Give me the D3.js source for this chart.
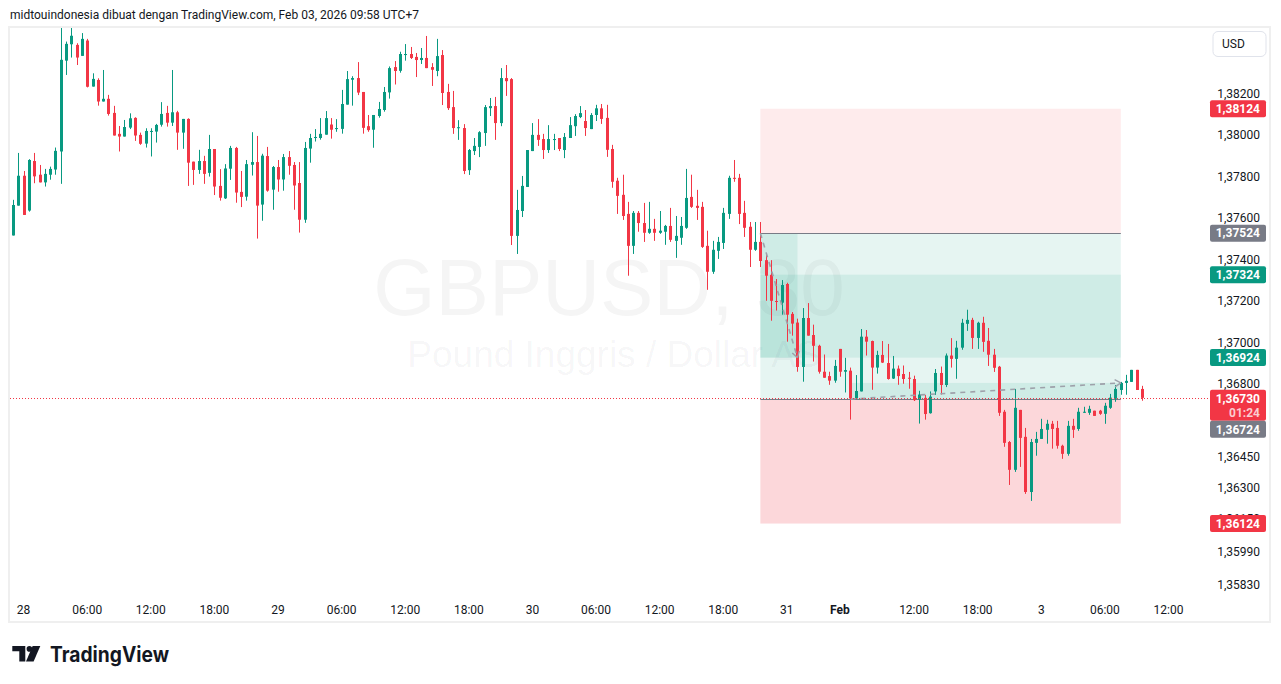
<!DOCTYPE html>
<html>
<head>
<meta charset="utf-8">
<script src="https://d3js.org/d3.v7.min.js"></script>
<style>
  body { margin: 0; background: #ffffff; }
  svg { display: block; font-family: Roboto, "Liberation Sans", sans-serif; }
</style>
</head>
<body>
<div id="chart"></div>
<script>
// GBPUSD 30m candles (oldest first)
var openP = [
  1.37513,1.37657,1.37801,1.37633,1.37872,1.37806,1.37769,1.37806,1.37831,1.37918,
  1.38356,1.38435,1.38432,1.38379,1.38453,1.38231,1.38263,1.38159,1.38172,1.38104,
  1.38003,1.37990,1.38033,1.38080,1.37998,1.37956,1.38014,1.38014,1.38047,1.38104,
  1.38057,1.38107,1.38009,1.38075,1.37869,1.37829,1.37872,1.37815,1.37930,1.37752,
  1.37692,1.37835,1.37935,1.37723,1.37700,1.37854,1.37867,1.37662,1.37896,1.37734,
  1.37843,1.37783,1.37891,1.37853,1.37766,1.37589,1.37932,1.37983,1.37983,1.37999,
  1.38048,1.38026,1.38027,1.38144,1.38264,1.38272,1.38205,1.38040,1.38023,1.38089,
  1.38118,1.38203,1.38325,1.38307,1.38383,1.38388,1.38374,1.38359,1.38369,1.38325,
  1.38306,1.38383,1.38205,1.38132,1.38031,1.38031,1.37828,1.37920,1.37940,1.38007,
  1.38127,1.38137,1.38055,1.38272,1.38267,1.37511,1.37631,1.37747,1.37920,1.37998,
  1.37978,1.37925,1.37974,1.37983,1.37925,1.37983,1.38040,1.38084,1.38065,1.38026,
  1.38094,1.38126,1.38080,1.37930,1.37777,1.37709,1.37617,1.37463,1.37622,1.37573,
  1.37526,1.37545,1.37526,1.37531,1.37559,1.37487,1.37502,1.37550,1.37699,1.37656,
  1.37651,1.37463,1.37338,1.37439,1.37477,1.37617,1.37791,1.37791,1.37622,1.37555,
  1.37444,1.37482,1.37394,1.37323,1.37197,1.37189,1.37279,1.37135,1.37093,1.36879,
  1.37115,1.37033,1.36981,1.36856,1.36835,1.36813,1.36966,1.36856,1.36861,1.36727,
  1.36761,1.37025,1.37004,1.36876,1.36937,1.36898,1.36823,1.36871,1.36845,1.36827,
  1.36821,1.36722,1.36730,1.36656,1.36761,1.36850,1.36792,1.36934,1.36918,1.36972,
  1.37087,1.37106,1.37019,1.37092,1.37005,1.36938,1.36880,1.36663,1.36517,1.36383,
  1.36672,1.36542,1.36276,1.36513,1.36532,1.36576,1.36605,1.36585,1.36499,1.36460,
  1.36595,1.36580,1.36658,1.36658,1.36668,1.36668,1.36653,1.36682,1.36726,1.36768,
  1.36802,1.36807,1.36865,1.36773
];
var highP = [
  1.37685,1.37911,1.37824,1.37881,1.37911,1.37853,1.37834,1.37845,1.37937,1.38521,
  1.38448,1.38521,1.38440,1.38489,1.38461,1.38295,1.38271,1.38311,1.38191,1.38138,
  1.38041,1.38070,1.38102,1.38083,1.38009,1.38030,1.38030,1.38051,1.38156,1.38138,
  1.38311,1.38114,1.38075,1.38078,1.37869,1.37926,1.37897,1.37998,1.37930,1.37833,
  1.37857,1.37945,1.37940,1.37824,1.37877,1.38011,1.37993,1.37907,1.37940,1.37848,
  1.37877,1.37906,1.37920,1.37867,1.37867,1.37964,1.38003,1.38026,1.38079,1.38113,
  1.38079,1.38074,1.38215,1.38306,1.38281,1.38349,1.38205,1.38094,1.38094,1.38157,
  1.38229,1.38328,1.38354,1.38399,1.38436,1.38422,1.38393,1.38417,1.38475,1.38344,
  1.38461,1.38407,1.38244,1.38210,1.38069,1.38050,1.37930,1.37983,1.38016,1.38142,
  1.38176,1.38181,1.38320,1.38335,1.38272,1.37733,1.37800,1.37925,1.38055,1.38074,
  1.38003,1.38045,1.38003,1.37983,1.38007,1.38084,1.38098,1.38137,1.38118,1.38103,
  1.38143,1.38147,1.38143,1.37950,1.37791,1.37806,1.37675,1.37631,1.37631,1.37670,
  1.37675,1.37593,1.37631,1.37564,1.37646,1.37607,1.37602,1.37834,1.37806,1.37733,
  1.37675,1.37536,1.37487,1.37506,1.37646,1.37801,1.37877,1.37810,1.37680,1.37578,
  1.37578,1.37578,1.37418,1.37394,1.37303,1.37298,1.37285,1.37144,1.37112,1.37163,
  1.37187,1.37083,1.36986,1.36939,1.36856,1.36913,1.36966,1.36923,1.36876,1.36840,
  1.37062,1.37057,1.37006,1.36957,1.37004,1.36990,1.36932,1.36886,1.36886,1.36855,
  1.36837,1.36764,1.36744,1.36761,1.36869,1.36881,1.36944,1.37018,1.37005,1.37111,
  1.37155,1.37116,1.37097,1.37121,1.37067,1.36966,1.36884,1.36672,1.36522,1.36773,
  1.36672,1.36585,1.36532,1.36566,1.36629,1.36624,1.36619,1.36619,1.36504,1.36619,
  1.36629,1.36682,1.36687,1.36692,1.36668,1.36672,1.36706,1.36749,1.36792,1.36807,
  1.36841,1.36865,1.36865,1.36788
];
var lowP = [
  1.37513,1.37657,1.37612,1.37628,1.37765,1.37769,1.37749,1.37782,1.37806,1.37762,
  1.38287,1.38371,1.38335,1.38379,1.38227,1.38231,1.38139,1.38159,1.38091,1.37995,
  1.37918,1.37990,1.38026,1.37969,1.37950,1.37937,1.37894,1.37961,1.38038,1.38038,
  1.38041,1.37926,1.37931,1.37752,1.37757,1.37810,1.37762,1.37797,1.37708,1.37681,
  1.37689,1.37781,1.37671,1.37650,1.37681,1.37802,1.37498,1.37584,1.37724,1.37637,
  1.37724,1.37729,1.37806,1.37637,1.37527,1.37574,1.37864,1.37966,1.37975,1.37999,
  1.37980,1.38013,1.38004,1.38144,1.38139,1.38190,1.38004,1.38013,1.37936,1.38081,
  1.38110,1.38173,1.38241,1.38298,1.38356,1.38364,1.38277,1.38340,1.38320,1.38234,
  1.38281,1.38142,1.38118,1.38003,1.37974,1.37809,1.37805,1.37901,1.37891,1.37945,
  1.38089,1.37974,1.38040,1.38186,1.37467,1.37424,1.37602,1.37747,1.37920,1.37945,
  1.37882,1.37911,1.37925,1.37920,1.37886,1.37983,1.37993,1.38079,1.37993,1.38026,
  1.38065,1.38051,1.37892,1.37743,1.37617,1.37588,1.37319,1.37424,1.37531,1.37482,
  1.37521,1.37487,1.37521,1.37468,1.37482,1.37405,1.37468,1.37545,1.37646,1.37588,
  1.37453,1.37251,1.37328,1.37400,1.37448,1.37593,1.37772,1.37568,1.37506,1.37361,
  1.37439,1.37361,1.37198,1.37102,1.37151,1.37131,1.37001,1.37030,1.36856,1.36808,
  1.37030,1.36905,1.36847,1.36827,1.36793,1.36803,1.36832,1.36756,1.36625,1.36727,
  1.36761,1.36934,1.36769,1.36847,1.36898,1.36818,1.36821,1.36793,1.36798,1.36774,
  1.36715,1.36606,1.36625,1.36654,1.36744,1.36746,1.36782,1.36876,1.36822,1.36962,
  1.37053,1.36966,1.36966,1.36952,1.36884,1.36855,1.36643,1.36494,1.36310,1.36373,
  1.36397,1.36267,1.36233,1.36451,1.36532,1.36509,1.36485,1.36485,1.36436,1.36451,
  1.36537,1.36571,1.36658,1.36648,1.36643,1.36648,1.36605,1.36677,1.36711,1.36745,
  1.36745,1.36807,1.36768,1.36716
];
var closeP = [
  1.37660,1.37801,1.37612,1.37877,1.37798,1.37769,1.37810,1.37834,1.37921,1.38360,
  1.38437,1.38476,1.38371,1.38461,1.38230,1.38268,1.38159,1.38172,1.38099,1.37995,
  1.37990,1.38036,1.38078,1.37995,1.37955,1.38017,1.38017,1.38046,1.38099,1.38057,
  1.38107,1.38009,1.38075,1.37864,1.37829,1.37872,1.37810,1.37930,1.37749,1.37695,
  1.37836,1.37935,1.37720,1.37699,1.37857,1.37867,1.37657,1.37898,1.37729,1.37843,
  1.37783,1.37891,1.37849,1.37754,1.37589,1.37935,1.37983,1.37988,1.38003,1.38079,
  1.38023,1.38031,1.38147,1.38267,1.38272,1.38202,1.38032,1.38021,1.38094,1.38123,
  1.38205,1.38320,1.38306,1.38388,1.38388,1.38369,1.38359,1.38369,1.38320,1.38312,
  1.38378,1.38200,1.38127,1.38031,1.38035,1.37824,1.37925,1.37945,1.38011,1.38132,
  1.38137,1.38055,1.38272,1.38257,1.37511,1.37636,1.37752,1.37925,1.37998,1.37974,
  1.37925,1.37978,1.37978,1.37930,1.37988,1.38045,1.38089,1.38103,1.38031,1.38094,
  1.38126,1.38075,1.37926,1.37772,1.37704,1.37607,1.37463,1.37622,1.37573,1.37526,
  1.37545,1.37526,1.37536,1.37559,1.37492,1.37511,1.37559,1.37694,1.37651,1.37646,
  1.37458,1.37338,1.37444,1.37482,1.37622,1.37791,1.37786,1.37617,1.37550,1.37444,
  1.37482,1.37390,1.37319,1.37198,1.37193,1.37274,1.37131,1.37088,1.36879,1.37115,
  1.37030,1.36981,1.36856,1.36827,1.36813,1.36884,1.36856,1.36864,1.36727,1.36763,
  1.37025,1.37001,1.36876,1.36937,1.36900,1.36821,1.36871,1.36835,1.36821,1.36823,
  1.36719,1.36746,1.36652,1.36736,1.36850,1.36792,1.36934,1.36918,1.36972,1.37092,
  1.37106,1.37019,1.37092,1.37000,1.36938,1.36875,1.36658,1.36513,1.36383,1.36682,
  1.36537,1.36276,1.36517,1.36532,1.36580,1.36605,1.36580,1.36499,1.36460,1.36595,
  1.36576,1.36663,1.36663,1.36677,1.36643,1.36653,1.36692,1.36731,1.36773,1.36802,
  1.36812,1.36865,1.36768,1.36730
];

// time axis: bar index of each label and its text
var xTickIdx = [2, 14, 26, 38, 50, 62, 74, 86, 98, 110, 122, 134, 146, 156, 170, 182, 194, 206, 218];
var xTickText = ["28", "06:00", "12:00", "18:00", "29", "06:00", "12:00", "18:00", "30", "06:00",
                 "12:00", "18:00", "31", "Feb", "12:00", "18:00", "3", "06:00", "12:00"];

// price axis ticks
var yTicks = [1.382, 1.380, 1.378, 1.376, 1.374, 1.372, 1.370, 1.368, 1.3645, 1.363, 1.3615, 1.3599, 1.3583];

// two position tools drawn on the chart
var shortPos = { entry: 1.37524, stop: 1.38124, target: 1.36924, start: 141, end: 209, hit: 148 };
var longPos = { entry: 1.36724, stop: 1.36124, target: 1.37324, start: 141, end: 209, fill: 158 };
var lastPrice = 1.36730;
var countdown = "01:24";

var headerText = "midtouindonesia dibuat dengan TradingView.com, Feb 03, 2026 09:58 UTC+7";

var green = "#089981", red = "#f23645", grey = "#787b86", ink = "#131722";

var width = 1281, height = 684;

var svg = d3.select("#chart")
  .append("svg")
  .attr("width", width)
  .attr("height", height);

var x = d3.scaleLinear().domain([0, 213]).range([13, 1142]);
var y = d3.scaleLinear().domain([1.3583, 1.382]).range([584.5, 93]);
var fmt = function(v) { return d3.format(".5f")(v).replace(".", ","); };

var candles = d3.range(openP.length).map(function(i) {
  return { i: i, o: openP[i], h: highP[i], l: lowP[i], c: closeP[i] };
});

// header
svg.append("text")
  .attr("x", 10)
  .attr("y", 19)
  .attr("font-size", 12)
  .attr("fill", ink)
  .text(headerText);

// pane frame
svg.append("rect")
  .attr("x", 9).attr("y", 27)
  .attr("width", 1261).attr("height", 595)
  .attr("fill", "none")
  .attr("stroke", "#efefef")
  .attr("stroke-width", 2);

svg.append("defs").append("clipPath").attr("id", "clip")
  .append("rect")
  .attr("x", 10).attr("y", 28)
  .attr("width", 1196).attr("height", 569);

var pane = svg.append("g").attr("clip-path", "url(#clip)");

// symbol watermark
pane.append("text")
  .attr("x", 609).attr("y", 315)
  .attr("text-anchor", "middle")
  .attr("font-family", "'Liberation Sans', Arial, sans-serif")
  .attr("font-size", 80)
  .attr("fill", ink).attr("fill-opacity", 0.045)
  .text("GBPUSD, 30");
pane.append("text")
  .attr("x", 614).attr("y", 366.5)
  .attr("text-anchor", "middle")
  .attr("font-family", "'Liberation Sans', Arial, sans-serif")
  .attr("font-size", 37)
  .attr("fill", ink).attr("fill-opacity", 0.045)
  .text("Pound Inggris / Dollar AS");

// position tool areas
function zone(x0, x1, p0, p1, color, alpha) {
  pane.append("rect")
    .attr("x", x(x0))
    .attr("width", x(x1) - x(x0))
    .attr("y", y(Math.max(p0, p1)))
    .attr("height", Math.abs(y(p0) - y(p1)))
    .attr("fill", color)
    .attr("fill-opacity", alpha);
}
zone(shortPos.start, shortPos.end, shortPos.entry, shortPos.stop, red, 0.1);
zone(shortPos.start, shortPos.end, shortPos.entry, shortPos.target, green, 0.1);
zone(shortPos.start, shortPos.hit, shortPos.entry, shortPos.target, green, 0.1);
zone(longPos.start, longPos.end, longPos.entry, longPos.stop, red, 0.2);
zone(longPos.start, longPos.end, longPos.entry, longPos.target, green, 0.1);
zone(longPos.fill, longPos.end, longPos.entry, closeP[longPos.end], green, 0.1);

[shortPos, longPos].forEach(function(p) {
  pane.append("line")
    .attr("x1", x(p.start)).attr("x2", x(p.end))
    .attr("y1", Math.round(y(p.entry)) + 0.5).attr("y2", Math.round(y(p.entry)) + 0.5)
    .attr("stroke", grey)
    .attr("stroke-width", 1);
});

// candles
var bars = pane.selectAll("g.candle")
  .data(candles)
  .enter()
  .append("g")
  .attr("class", "candle")
  .attr("fill", function(d) { return d.c >= d.o ? green : red; });

bars.append("rect")
  .attr("x", function(d) { return Math.round(x(d.i)); })
  .attr("width", 1)
  .attr("y", function(d) { return y(d.h); })
  .attr("height", function(d) { return Math.max(1, y(d.l) - y(d.h)); });

bars.append("rect")
  .attr("x", function(d) { return Math.round(x(d.i)) - 1; })
  .attr("width", 3)
  .attr("y", function(d) { return y(Math.max(d.o, d.c)); })
  .attr("height", function(d) { return Math.max(1, Math.abs(y(d.o) - y(d.c))); });

// dashed trade paths with arrow heads
function tradePath(x0, p0, x1, p1) {
  var ax = x(x0), ay = y(p0), bx = x(x1), by = y(p1);
  pane.append("line")
    .attr("x1", ax).attr("y1", ay).attr("x2", bx).attr("y2", by)
    .attr("stroke", "#9ea1aa")
    .attr("stroke-width", 1.6)
    .attr("stroke-dasharray", "5,5");
  var ang = Math.atan2(by - ay, bx - ax);
  [-0.55, 0.55].forEach(function(k) {
    pane.append("line")
      .attr("x1", bx).attr("y1", by)
      .attr("x2", bx - 7 * Math.cos(ang + k))
      .attr("y2", by - 7 * Math.sin(ang + k))
      .attr("stroke", "#9ea1aa")
      .attr("stroke-width", 1.4);
  });
}
tradePath(shortPos.start, shortPos.entry, shortPos.hit, shortPos.target);
tradePath(longPos.fill, longPos.entry, longPos.end, closeP[longPos.end]);

// last price line
svg.append("line")
  .attr("x1", 10).attr("x2", 1208)
  .attr("y1", Math.round(y(lastPrice)) + 0.5).attr("y2", Math.round(y(lastPrice)) + 0.5)
  .attr("stroke", red)
  .attr("stroke-width", 1)
  .attr("stroke-dasharray", "1,2");

// price axis
var yAxis = svg.append("g")
  .attr("transform", "translate(1260,0)")
  .call(d3.axisRight(y).tickValues(yTicks).tickFormat(fmt).tickSize(0));
yAxis.select(".domain").remove();
yAxis.selectAll("text")
  .attr("x", 0)
  .attr("dy", "0.35em")
  .attr("text-anchor", "end")
  .attr("font-family", "Roboto, 'Liberation Sans', sans-serif")
  .attr("font-size", 12)
  .attr("fill", ink);

// price labels on the scale
function priceTag(price, yc, color, h) {
  var g = svg.append("g");
  g.append("rect")
    .attr("x", 1210).attr("y", yc - 8.5)
    .attr("width", 56).attr("height", h || 17)
    .attr("rx", 2)
    .attr("fill", color);
  g.append("text")
    .attr("x", 1260).attr("y", yc)
    .attr("dy", "0.35em")
    .attr("text-anchor", "end")
    .attr("font-size", 12)
    .attr("font-weight", 700)
    .attr("fill", "#ffffff")
    .text(fmt(price));
  return g;
}
priceTag(shortPos.stop, y(shortPos.stop), red);
priceTag(shortPos.entry, y(shortPos.entry), grey);
priceTag(longPos.target, y(longPos.target), green);
priceTag(shortPos.target, y(shortPos.target), green);
var cur = priceTag(lastPrice, y(lastPrice) + 0.5, red, 31);
cur.append("text")
  .attr("x", 1260).attr("y", y(lastPrice) + 14.5)
  .attr("dy", "0.35em")
  .attr("text-anchor", "end")
  .attr("font-size", 12)
  .attr("font-weight", 700)
  .attr("fill", "#ffffff").attr("fill-opacity", 0.75)
  .text(countdown);
priceTag(longPos.entry, y(lastPrice) + 31.5, grey);
priceTag(longPos.stop, y(longPos.stop), red);

// time axis
svg.append("g")
  .selectAll("text")
  .data(xTickIdx)
  .enter()
  .append("text")
  .attr("x", function(d) { return x(d); })
  .attr("y", 614)
  .attr("text-anchor", "middle")
  .attr("font-size", 12)
  .attr("font-weight", function(d, i) { return xTickText[i] === "Feb" ? 700 : 400; })
  .attr("fill", ink)
  .text(function(d, i) { return xTickText[i]; });

// currency button
svg.append("rect")
  .attr("x", 1213).attr("y", 31.5)
  .attr("width", 53).attr("height", 25)
  .attr("rx", 5)
  .attr("fill", "#ffffff")
  .attr("stroke", "#e0e3eb");
svg.append("text")
  .attr("x", 1222).attr("y", 44)
  .attr("dy", "0.35em")
  .attr("font-size", 12)
  .attr("fill", ink)
  .text("USD");

// logo
var logo = svg.append("g").attr("fill", ink);
logo.append("path").attr("d", "M12.3,646 H25.3 V661.5 H19.3 V651.3 H12.3 Z");
logo.append("circle").attr("cx", 29.4).attr("cy", 648.9).attr("r", 2.8);
logo.append("path").attr("d", "M32.6,646 H40.3 L33.6,661.5 H26 Z");
logo.append("text")
  .attr("x", 50).attr("y", 661.5)
  .attr("font-family", "Inter, Roboto, sans-serif")
  .attr("font-size", 21)
  .attr("font-weight", 700)
  .attr("textLength", 119)
  .attr("lengthAdjust", "spacingAndGlyphs")
  .text("TradingView");
</script>
</body>
</html>
